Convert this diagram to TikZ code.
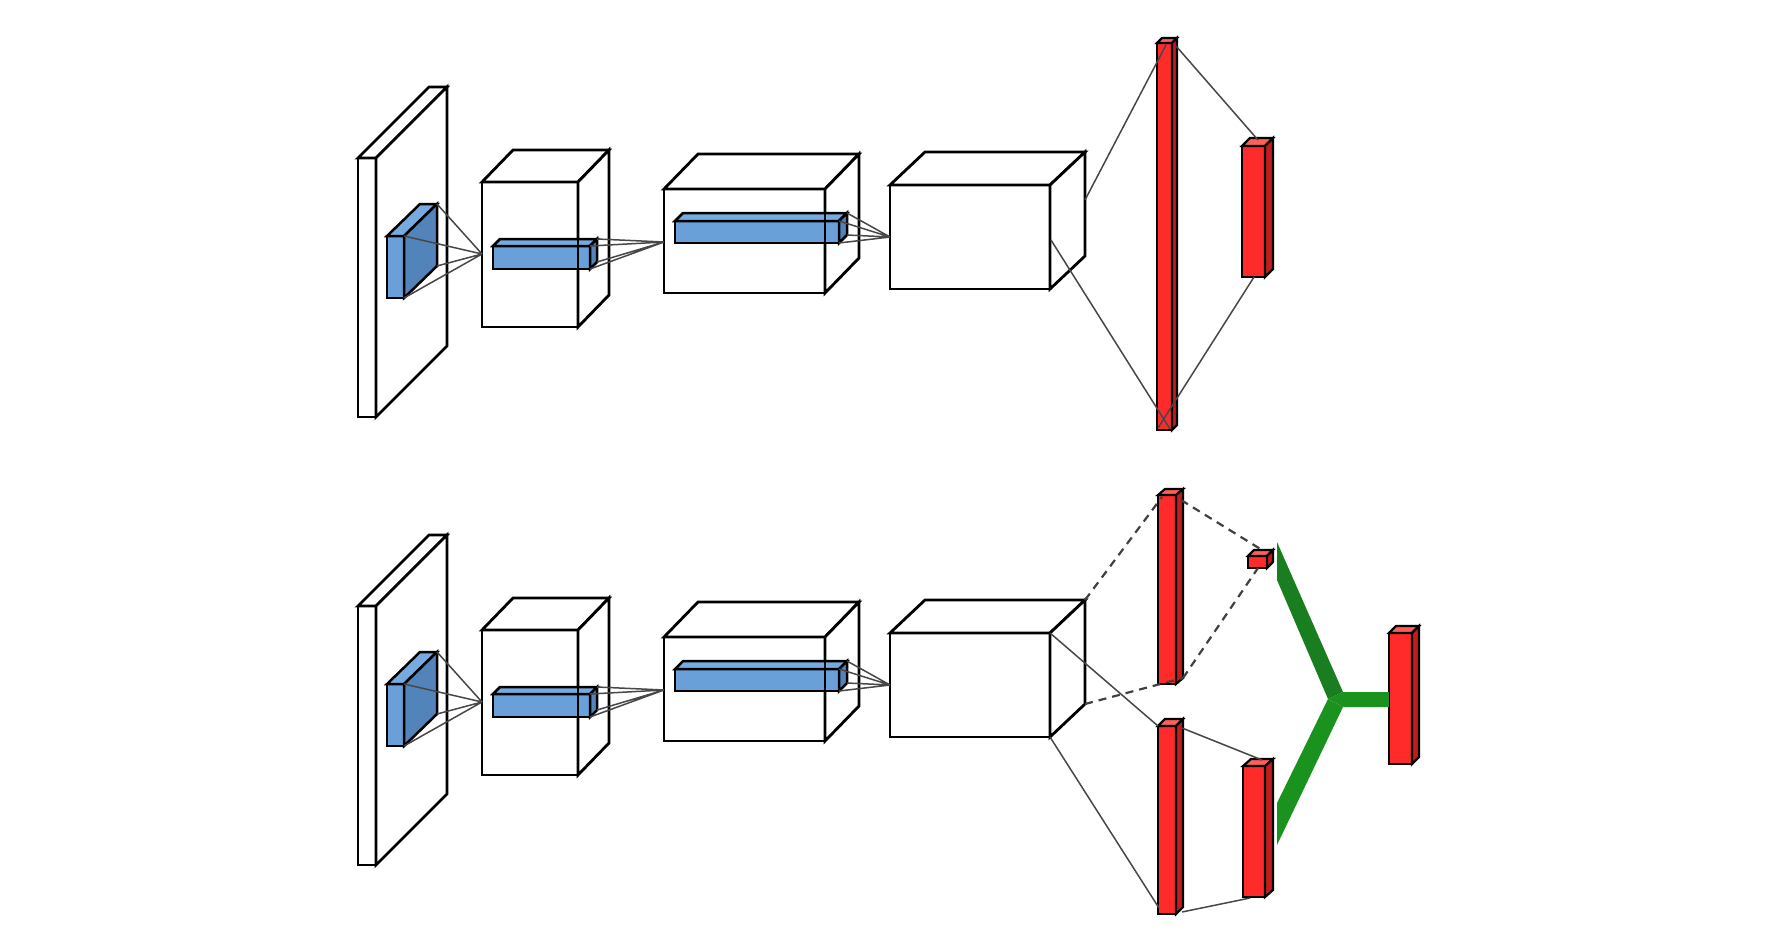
\documentclass[tikz,border=0pt]{standalone}
\definecolor{redfront}{RGB}{255,43,43}
\definecolor{redtop}{RGB}{255,95,88}
\definecolor{redside}{RGB}{195,28,28}
\definecolor{bluefront}{RGB}{106,160,216}
\definecolor{bluetop}{RGB}{118,170,224}
\definecolor{blueside}{RGB}{82,132,186}
\definecolor{greenup}{RGB}{24,126,32}
\definecolor{greenlow}{RGB}{26,146,30}
\tikzset{
  wfront/.style={fill=white,draw=black,line width=2.8pt},
  wtop/.style={fill=white,draw=black,line width=2.8pt},
  wside/.style={fill=white,draw=black,line width=2.8pt},
  bfront/.style={fill=bluefront,draw=black,line width=2.5pt},
  btop/.style={fill=bluetop,draw=black,line width=2.5pt},
  bside/.style={fill=blueside,draw=black,line width=2.5pt},
  rfront/.style={fill=redfront,draw=black,line width=2.2pt},
  rtop/.style={fill=redtop,draw=black,line width=2.2pt},
  rside/.style={fill=redside,draw=black,line width=2.2pt},
  edge/.style={draw=black,line width=2.8pt},
  link/.style={draw=black!72,line width=1.5pt},
  dlink/.style={draw=black!75,line width=2.2pt,dash pattern=on 8pt off 6pt},
}
% #1 name, #2 x0, #3 y0, #4 x1, #5 y1 (front face), #6 dx, #7 dy (depth), #8 colour prefix
\newcommand{\drawcuboid}[8]{%
  \coordinate (#1-ftl) at (#2,#3);
  \coordinate (#1-ftr) at (#4,#3);
  \coordinate (#1-fbl) at (#2,#5);
  \coordinate (#1-fbr) at (#4,#5);
  \coordinate (#1-btl) at ({#2+#6},{#3+#7});
  \coordinate (#1-btr) at ({#4+#6},{#3+#7});
  \coordinate (#1-bbr) at ({#4+#6},{#5+#7});
  \filldraw[#8front] (#1-ftl) -- (#1-ftr) -- (#1-fbr) -- (#1-fbl) -- cycle;
  \filldraw[#8top] (#1-ftl) -- (#1-btl) -- (#1-btr) -- (#1-ftr) -- cycle;
  \filldraw[#8side] (#1-ftr) -- (#1-btr) -- (#1-bbr) -- (#1-fbr) -- cycle;
}
\newcommand{\convrow}[1]{%
  \drawcuboid{#1slab}{358}{158}{376}{417}{71}{-71}{w}
  \drawcuboid{#1bx}{387}{236}{404}{298}{33}{-32}{b}
  \drawcuboid{#1c1}{482}{182}{578}{327}{31}{-32}{w}
  \drawcuboid{#1bar1}{493}{246}{590}{269}{7}{-7}{b}
  \draw[edge] (#1c1-ftr) -- (#1c1-fbr);
  \drawcuboid{#1c2}{664}{189}{825}{293}{34}{-35}{w}
  \drawcuboid{#1bar2}{675}{221}{839}{243}{8}{-8}{b}
  \draw[edge] (#1c2-ftr) -- (#1c2-fbr);
  \drawcuboid{#1c3}{890}{185}{1050}{289}{35}{-33}{w}
  \coordinate (#1p1) at (482,254);
  \coordinate (#1p2) at (664,242);
  \coordinate (#1p3) at (890,237);
  \draw[link] (#1bx-ftr) -- (#1p1) (#1bx-btr) -- (#1p1) (#1bx-fbr) -- (#1p1) (#1bx-bbr) -- (#1p1);
  \draw[link] (#1bar1-ftr) -- (#1p2) (#1bar1-btr) -- (#1p2) (#1bar1-fbr) -- (#1p2) (#1bar1-bbr) -- (#1p2);
  \draw[link] (#1bar2-ftr) -- (#1p3) (#1bar2-btr) -- (#1p3) (#1bar2-fbr) -- (#1p3) (#1bar2-bbr) -- (#1p3);
}
\begin{document}
\begin{tikzpicture}[x=1pt,y=-1pt]
\useasboundingbox (0,0) rectangle (1768,950);
% ---------- top row ----------
\convrow{t}
\drawcuboid{tbig}{1157}{43}{1172}{430}{5}{-5}{r}
\drawcuboid{tsmall}{1242}{146}{1265}{277}{8}{-8}{r}
\coordinate (tc3-o1) at (1085,200);
\coordinate (tc3-o2) at (1051,240);
\coordinate (tbig-i1) at (1166,45);
\coordinate (tbig-i2) at (1170,429);
\coordinate (tbig-o1) at (1176,46);
\coordinate (tbig-o2) at (1158,428);
\coordinate (tsmall-i1) at (1258,140);
\coordinate (tsmall-i2) at (1254,277);
\draw[link] (tc3-o1) -- (tbig-i1);
\draw[link] (tc3-o2) -- (tbig-i2);
\draw[link] (tbig-o1) -- (tsmall-i1);
\draw[link] (tbig-o2) -- (tsmall-i2);
% ---------- bottom row ----------
\begin{scope}[shift={(0,448)}]
\convrow{b}
\end{scope}
\drawcuboid{bA}{1158}{495}{1176}{684}{7}{-6}{r}
\drawcuboid{bS}{1248}{556}{1267}{568}{6}{-6}{r}
\drawcuboid{bB}{1158}{726}{1176}{914}{7}{-7}{r}
\drawcuboid{bC}{1243}{766}{1265}{897}{8}{-7}{r}
\drawcuboid{bD}{1389}{633}{1412}{764}{7}{-7}{r}
\coordinate (bA-i1) at (1162,497);
\coordinate (bA-o1) at (1181,500);
\coordinate (bS-i1) at (1262,550);
\coordinate (bS-i2) at (1258,568);
\coordinate (bB-i2) at (1159,908);
\coordinate (bB-o1) at (1182,728);
\coordinate (bB-o2) at (1182,912);
\coordinate (bC-i1) at (1262,760);
\coordinate (bC-i2) at (1250,898);
\draw[dlink] (bc3-btr) -- (bA-i1);
\draw[dlink] (bc3-bbr) -- (bA-bbr);
\draw[dlink] (bA-o1) -- (bS-i1);
\draw[dlink] (bA-bbr) -- (bS-i2);
\draw[link] (bc3-ftr) -- (bB-ftl);
\draw[link] (bc3-fbr) -- (bB-i2);
\draw[link] (bB-o1) -- (bC-i1);
\draw[link] (bB-o2) -- (bC-i2);
% ---------- green Y ----------
\coordinate (gy-a) at (1277,542);
\coordinate (gy-b) at (1343,692);
\coordinate (gy-c) at (1328,699);
\coordinate (gy-d) at (1277,580);
\coordinate (gy-e) at (1343,707);
\coordinate (gy-f) at (1277,845);
\coordinate (gy-g) at (1277,803);
\coordinate (gy-h) at (bD-fbl |- gy-b);
\coordinate (gy-i) at (bD-fbl |- gy-e);
\fill[greenlow] (gy-c) -- (gy-b) -- (gy-h) -- (gy-i) -- (gy-e) -- cycle;
\fill[greenlow] (gy-c) -- (gy-e) -- (gy-f) -- (gy-g) -- cycle;
\fill[greenup] (gy-a) -- (gy-b) -- (gy-c) -- (gy-d) -- cycle;
\end{tikzpicture}
\end{document}
